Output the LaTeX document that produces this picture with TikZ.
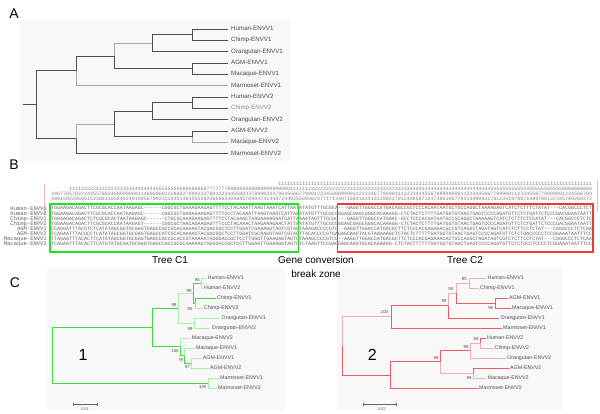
\documentclass[tikz,border=0pt]{standalone}
\usepackage{fontspec}
\setmainfont{Liberation Sans}
\newfontfamily\seqfont{Liberation Mono}[Ligatures=TeXOff]
\ExplSyntaxOn
\cs_new:Npn \digrep #1#2 { \prg_replicate:nn {#1} {#2} }
\ExplSyntaxOff
\definecolor{treeA}{HTML}{505050}
\definecolor{treeAl}{HTML}{A8A8A8}
\definecolor{gdark}{HTML}{3CDC3C}
\definecolor{glight}{HTML}{A8F0A8}
\definecolor{rdark}{HTML}{EE5A68}
\definecolor{rlight}{HTML}{F5ACB4}
\definecolor{bgpanel}{HTML}{F8F8F8}
\definecolor{boxgreen}{HTML}{22E022}
\definecolor{boxred}{HTML}{EE3838}
\definecolor{pinkline}{HTML}{F4B4BC}
\begin{document}
\begin{tikzpicture}[x=1pt,y=-1pt,
  every node/.style={inner sep=0pt},
  plabel/.style={font=\fontsize{14}{14}\selectfont},
  caption/.style={font=\fontsize{10}{14}\selectfont, align=center},
  bignum/.style={font=\fontsize{16}{16}\selectfont},
  leafA/.style={font=\fontsize{6.2}{6.2}\selectfont, text=black!72, anchor=west, inner xsep=3pt, text height=4.5pt, text depth=1.2pt},
  leafC/.style={font=\fontsize{5.3}{5.3}\selectfont, text=black!70, anchor=west, inner xsep=1.5pt, text height=3.9pt, text depth=1pt},
  boot/.style={font=\fontsize{4.3}{4.3}\selectfont, text=black!70},
  eA/.style={draw=treeA, line width=0.75pt},
  eAl/.style={draw=treeAl, line width=0.75pt},
  ge/.style={draw=gdark, line width=0.75pt},
  gl/.style={draw=glight, line width=0.75pt},
  re/.style={draw=rdark, line width=0.75pt},
  rl/.style={draw=rlight, line width=0.75pt},
  seqrow/.style={font=\seqfont\fontsize{4.98}{4.98}\selectfont, anchor=west, text=black!62, text height=3.5pt, text depth=1pt},
  seqhead/.style={font=\seqfont\fontsize{4.98}{4.98}\selectfont, anchor=west, text=black!50, text height=3.5pt, text depth=1pt},
  seqlbl/.style={font=\seqfont\fontsize{5.5}{5.5}\selectfont, anchor=east, text=black!62, text height=3.8pt, text depth=1pt},
  scalebar/.style={draw=black!60, line width=0.5pt},
  scalelbl/.style={font=\fontsize{4}{4}\selectfont, text=black!60}
]
\useasboundingbox (0,0) rectangle (600,413);
\fill[white] (0,0) rectangle (600,413);

% ---------------- backgrounds
\fill[bgpanel] (20,20) rectangle (290,161);
\fill[bgpanel] (47,268) rectangle (285,410);
\fill[bgpanel] (337,268) rectangle (562,410);

% ---------------- panel letters
\node[plabel] (pA) at (14,14) {A};
\node[plabel] (pB) at (14,165) {B};
\node[plabel] (pC) at (15,283) {C};

% ================= TREE A
\node[leafA] (lA0) at (228,29) {Human-ENVV1};
\node[leafA] (lA1) at (228,40.3) {Chimp-ENVV1};
\node[leafA] (lA2) at (228,51.7) {Orangutan-ENVV1};
\node[leafA] (lA3) at (228,63) {AGM-ENVV1};
\node[leafA] (lA4) at (228,74.3) {Macaque-ENVV1};
\node[leafA] (lA5) at (228,85.7) {Marmoset-ENVV1};
\node[leafA] (lA6) at (228,97) {Human-ENVV2};
\node[leafA, text=black!45] (lA7) at (228,108.3) {Chimp-ENVV2};
\node[leafA] (lA8) at (228,119.7) {Orangutan-ENVV2};
\node[leafA] (lA9) at (228,131) {AGM-ENVV2};
\node[leafA] (lA10) at (228,142.3) {Macaque-ENVV2};
\node[leafA] (lA11) at (228,153.7) {Marmoset-ENVV2};
\coordinate (aR0) at (23,104.8);
\coordinate (aR) at (36,104.8);
\coordinate (a5) at (76,70.8);
\coordinate (a4) at (114,55.9);
\coordinate (a2) at (152,43.2);
\coordinate (a1) at (192,34.65);
\coordinate (a3) at (192,68.65);
\coordinate (b5) at (76,138.8);
\coordinate (b4) at (114,123.9);
\coordinate (b2) at (152,111.2);
\coordinate (b1) at (192,102.65);
\coordinate (b3) at (192,136.65);
\draw[eA] (aR0) -- (aR);
\draw[eA] (aR) |- (a5);
\draw[eA] (aR) |- (b5);
\draw[eA] (a5) |- (a4);
\draw[eAl] (a5) |- (lA5.west);
\draw[eAl] (a4) |- (a2);
\draw[eA] (a4) |- (a3);
\draw[eA] (a2) |- (a1);
\draw[eA] (a2) |- (lA2.west);
\draw[eA] (a1) |- (lA0.west);
\draw[eA] (a1) |- (lA1.west);
\draw[eA] (a3) |- (lA3.west);
\draw[eA] (a3) |- (lA4.west);
\draw[eAl] (b5) |- (b4);
\draw[eA] (b5) |- (lA11.west);
\draw[eA] (b4) |- (b2);
\draw[eA] (b4) |- (b3);
\draw[eA] (b2) |- (b1);
\draw[eA] (b2) |- (lA8.west);
\draw[eA] (b1) |- (lA6.west);
\draw[eA] (b1) |- (lA7.west);
\draw[eA] (b3) |- (lA9.west);
\draw[eAl] (b3) |- (lA10.west);

% ================= PANEL B : alignment
\draw[pinkline, line width=0.8pt] (44,184) -- (44,214);
\draw[pinkline, line width=0.8pt] (597,180) -- (597,212);

\node[seqhead] (h1) at (278,184.3) {\digrep{105}{1}};
\node[seqhead] (h2) at (68.9,189.3) {\digrep{5}{1}\digrep{10}{2}\digrep{6}{3}\digrep{8}{4}\digrep{8}{5}\digrep{9}{6}\digrep{7}{7}\digrep{13}{8}\digrep{4}{9}\digrep{4}{0}\digrep{6}{1}\digrep{14}{2}\digrep{21}{3}\digrep{26}{4}\digrep{24}{5}\digrep{10}{6}};
\node[seqhead] (h3) at (51,194.3) {4467785782234455788245899000011460000012580027899233789122344558933789902337804556677990123345688990011223346779000111223344455678899900011223445667799900112334556778899001234566789};
\node[seqhead] (h4) at (51,199.3) {4961592295061523861165846249190567992311345146450559246586240968570984741448724492550936237717134871684163413129021701248950712473801967793134909317812341978871499790137345789260372};

\node[seqlbl] (sl1) at (47,208.7) {Human-ENVV1};
\node[seqlbl] (sl2) at (47,213.8) {Human-ENVV2};
\node[seqlbl] (sl3) at (47,218.8) {Chimp-ENVV1};
\node[seqlbl] (sl4) at (47,223.9) {Chimp-ENVV2};
\node[seqlbl] (sl5) at (47,229.0) {AGM-ENVV1};
\node[seqlbl] (sl6) at (47,234.1) {AGM-ENVV2};
\node[seqlbl] (sl7) at (47,239.1) {Macaque-ENVV1};
\node[seqlbl] (sl8) at (47,244.2) {Macaque-ENVV2};

\node[seqrow] (s1) at (51,208.7) {TGGAAGACAGACTTCGCGCACCAATAAGAGC------CGGCGCTGAAAGAAGAGTTTTCCTACAAATTAAGTAAATCATTAATATATGTTTGCGCA---GAGGTTGGGCCATGACAGCCGCTCCCACAATAATGCTGCCAGGCTAAAAGAGTCATCTCTTTCTATAT---CACGGCCCTCT};
\node[seqrow] (s2) at (51,213.8) {TGGAAGACAGACTTCGCGCACCAATAAGAGC------CGGCGCTGAAAGAAGAGTTTTCCCTACAAATTAAGTAAATCATTAAATATGTTTGCGCGGGAGCGAGCGGGCACAAAGG-CTCTACTCTTTTGATGGTGTAACTGAGTCCCCAGATGTTCTCTGATTCTCCCGACGGAATAATT};
\node[seqrow] (s3) at (51,218.8) {TGGAAGACAGACTCTCGCGCACTAATAAGAGC------CTGCGCAAAGAAGAGTTTTCCTACAAACTAAGAAAAGAATCATTAAAATAGTTTGCGC---GAGGTTGGGCCATGAAC-GCCTCCCACAATAATGCCGCAGGCTAAAAAGTCATCTCTTTCTCCATAT---CACGGCCCTCTC};
\node[seqrow] (s4) at (51,223.9) {TGGAAGACAGACTTCGCGCACCAATAAGAGT------CGGCGCTAACAGAAGAGTTTCCCTACAAACTAAGAAAGAACTATTAATATGTTTGCGCGGGAGCGAGCGGGCACAAAGG-CTCTACTCTTTTGATGGTGTAACTGAGTCCCCAGATGTTCTCTGATTCTCCCGACGGAATAATT};
\node[seqrow] (s5) at (51,229.0) {CCAGGATTTACGTCTCATATAGCGGTGCGAGTGAGCCACCGCACAAAAGTACGACGGCTCCTTGGATCGAAAGGTAGTCGTAGTAAAGACCCCGTC--AAGGTTGGACCATGACGCTTCTCCCACGAGAAACGCCGTCAGGCTAGATAGTCATCTCTTCCTCTAT---CGGGCCCTCTCAA};
\node[seqrow] (s6) at (51,234.1) {TCAGAATTTACGCCTCATATAGCGGTGCGAGTGAGCCATCGCACAAAAGTACGACGGCTCCTTGGATCGCAAGGTAGTCGTAGTTACACCCCGTGAGAGCAAGTACGTAAAAAGCTCTACTCTTTTTGATGGTGTAACTGAGTCCCCAGATGTTCTCTGACCCCCTCCGGAAATAATTTCC};
\node[seqrow] (s7) at (51,239.1) {TTAGAATTTACACTTCATATAGCGGTGCGAGTGAGCCACCGCACCGTAAAAATAGGGACCGCTCCTTGGGTTGAAGAGTAGTCTAAAGCCCCGTCG--AAGGTTGGACCATGACGCTTCTCCCACGAGAAACACTGCCAGGCTAGATAGTCGTCTCTTCCTCTAT---CGGGCCCTCTCAA};
\node[seqrow] (s8) at (51,244.2) {TCAGAATTTACACTTCATGTATGCAATGCGAGTGAGCCACCGCGCAAAAAGTAGGGACCGCTCCTTGGAATTGAAAGGTAGTCTCTAAGTTCCGACGAGCAAGTACACAAAAAG-CTCTACTTTTTTGATGGTGTAACTGAGTCCCCAGATGTTCTCTGCCTCCCCTCGGAAATAATTTCC};

\draw[boxgreen, line width=1.2pt] (50,204) rectangle (298.8,252);
\draw[boxred, line width=1.2pt] (337.7,204) rectangle (593,252);

\node[caption] (tc1) at (170,260) {Tree C1};
\node[caption] (gcz) at (316,267) {Gene conversion\\break zone};
\node[caption] (tc2) at (465,260) {Tree C2};

% ================= TREE C1 (green)
\node[leafC] (g0) at (206,278) {Human-ENVV1};
\node[leafC] (g1) at (202.5,288) {Human-ENVV2};
\node[leafC] (g2) at (215.5,298) {Chimp-ENVV1};
\node[leafC] (g3) at (202.5,308) {Chimp-ENVV2};
\node[leafC] (g4) at (220,318) {Orangutan-ENVV1};
\node[leafC] (g5) at (210.2,328) {Orangutan-ENVV2};
\node[leafC] (g6) at (190.2,338) {Macaque-ENVV2};
\node[leafC] (g7) at (194.5,348) {Macaque-ENVV1};
\node[leafC] (g8) at (201.2,358) {AGM-ENVV1};
\node[leafC] (g9) at (208.5,368) {AGM-ENVV2};
\node[leafC] (g10) at (218.5,378) {Marmoset-ENVV1};
\node[leafC] (g11) at (216.5,388) {Marmoset-ENVV2};
\coordinate (gH) at (201.7,283);
\coordinate (gC) at (195,303);
\coordinate (gHC) at (193.3,293);
\coordinate (gO) at (194.3,323);
\coordinate (gA) at (178.3,308);
\coordinate (gAG) at (191.5,363);
\coordinate (gM1) at (184.3,355.5);
\coordinate (gM0) at (180,346.75);
\coordinate (gB) at (152.3,327.4);
\coordinate (gMm) at (208.3,383);
\coordinate (gR) at (52.3,355.2);
\draw[ge] (gR) |- (gB);
\draw[ge] (gR) |- (gMm);
\draw[ge] (gB) |- (gA);
\draw[ge] (gB) |- (gM0);
\draw[gl] (gA) |- (gHC);
\draw[gl] (gA) |- (gO);
\draw[ge] (gHC) |- (gH);
\draw[ge] (gHC) |- (gC);
\draw[gl] (gH) |- (g0.west);
\draw[gl] (gH) |- (g1.west);
\draw[ge] (gC) |- (g2.west);
\draw[gl] (gC) |- (g3.west);
\draw[gl] (gO) |- (g4.west);
\draw[gl] (gO) |- (g5.west);
\draw[gl] (gM0) |- (g6.west);
\draw[ge] (gM0) |- (gM1);
\draw[gl] (gM1) |- (g7.west);
\draw[ge] (gM1) |- (gAG);
\draw[gl] (gAG) |- (g8.west);
\draw[gl] (gAG) |- (g9.west);
\draw[gl] (gMm) |- (g10.west);
\draw[gl] (gMm) |- (g11.west);
\node[boot] (bg1) at (197.3,279.7) {95};
\node[boot] (bg2) at (189,290.7) {99};
\node[boot] (bg3) at (190,308.7) {85};
\node[boot] (bg4) at (190,328.7) {99};
\node[boot] (bg5) at (174,304.7) {99};
\node[boot] (bg6) at (175,351.3) {100};
\node[boot] (bg7) at (180.7,359.7) {79};
\node[boot] (bg8) at (187.5,367.5) {97};
\node[boot] (bg9) at (202.7,387) {100};
\node[bignum] (n1) at (83,355) {1};
\coordinate (sbL1) at (73,404);
\coordinate (sbL2) at (97,404);
\draw[scalebar] (sbL1) -- (sbL2);
\draw[scalebar] ([yshift=-1.5pt]sbL1) -- ([yshift=1.5pt]sbL1);
\draw[scalebar] ([yshift=-1.5pt]sbL2) -- ([yshift=1.5pt]sbL2);
\node[scalelbl] (sb1) at (85,409) {0.01};

% ================= TREE C2 (red)
\node[leafC] (r0) at (486,278) {Human-ENVV1};
\node[leafC] (r1) at (478.5,288) {Chimp-ENVV1};
\node[leafC] (r2) at (507.5,298) {AGM-ENVV1};
\node[leafC] (r3) at (510.5,308) {Macaque-ENVV1};
\node[leafC] (r4) at (499,318) {Orangutan-ENVV1};
\node[leafC] (r5) at (501.5,328) {Marmoset-ENVV1};
\node[leafC] (r6) at (485.5,338) {Human-ENVV2};
\node[leafC] (r7) at (493,348) {Chimp-ENVV2};
\node[leafC] (r8) at (505.5,358) {Orangutan-ENVV2};
\node[leafC] (r9) at (508.5,368) {AGM-ENVV2};
\node[leafC] (r10) at (486,378) {Macaque-ENVV2};
\node[leafC] (r11) at (477.5,388) {Marmoset-ENVV2};
\coordinate (rHC1) at (469,283);
\coordinate (rAM1) at (495.7,303);
\coordinate (r58) at (456,293);
\coordinate (rO1) at (448.3,305.5);
\coordinate (rT) at (391.7,316.75);
\coordinate (rHC2) at (480,343);
\coordinate (rO2) at (470,350.5);
\coordinate (rAM2) at (473.3,373);
\coordinate (rX) at (440.7,361.75);
\coordinate (rB) at (390,374.9);
\coordinate (rR) at (342.3,345.8);
\draw[rl] (rR) |- (rT);
\draw[re] (rR) |- (rB);
\draw[re] (rT) |- (rO1);
\draw[re] (rT) |- (r5.west);
\draw[rl] (rO1) |- (r58);
\draw[re] (rO1) |- (r4.west);
\draw[rl] (r58) |- (rHC1);
\draw[re] (r58) |- (rAM1);
\draw[rl] (rHC1) |- (r0.west);
\draw[rl] (rHC1) |- (r1.west);
\draw[re] (rAM1) |- (r2.west);
\draw[re] (rAM1) |- (r3.west);
\draw[re] (rB) |- (rX);
\draw[re] (rB) |- (r11.west);
\draw[re] (rX) |- (rO2);
\draw[rl] (rX) |- (rAM2);
\draw[rl] (rO2) |- (rHC2);
\draw[rl] (rO2) |- (r8.west);
\draw[re] (rHC2) |- (r6.west);
\draw[rl] (rHC2) |- (r7.west);
\draw[re] (rAM2) |- (r9.west);
\draw[rl] (rAM2) |- (r10.west);
\node[boot] (br1) at (464.3,279) {85};
\node[boot] (br2) at (490.7,308) {99};
\node[boot] (br3) at (450.7,289) {58};
\node[boot] (br4) at (444,301.5) {99};
\node[boot] (br5) at (384.5,312.5) {100};
\node[boot] (br6) at (476,339.3) {85};
\node[boot] (br7) at (466,347) {99};
\node[boot] (br8) at (469,378) {99};
\node[boot] (br9) at (436,358) {99};
\node[bignum] (n2) at (372.3,355) {2};
\coordinate (sbR1) at (363.3,404);
\coordinate (sbR2) at (396.7,404);
\draw[scalebar] (sbR1) -- (sbR2);
\draw[scalebar] ([yshift=-1.5pt]sbR1) -- ([yshift=1.5pt]sbR1);
\draw[scalebar] ([yshift=-1.5pt]sbR2) -- ([yshift=1.5pt]sbR2);
\node[scalelbl] (sb2) at (381.7,409) {0.02};
\end{tikzpicture}
\end{document}
